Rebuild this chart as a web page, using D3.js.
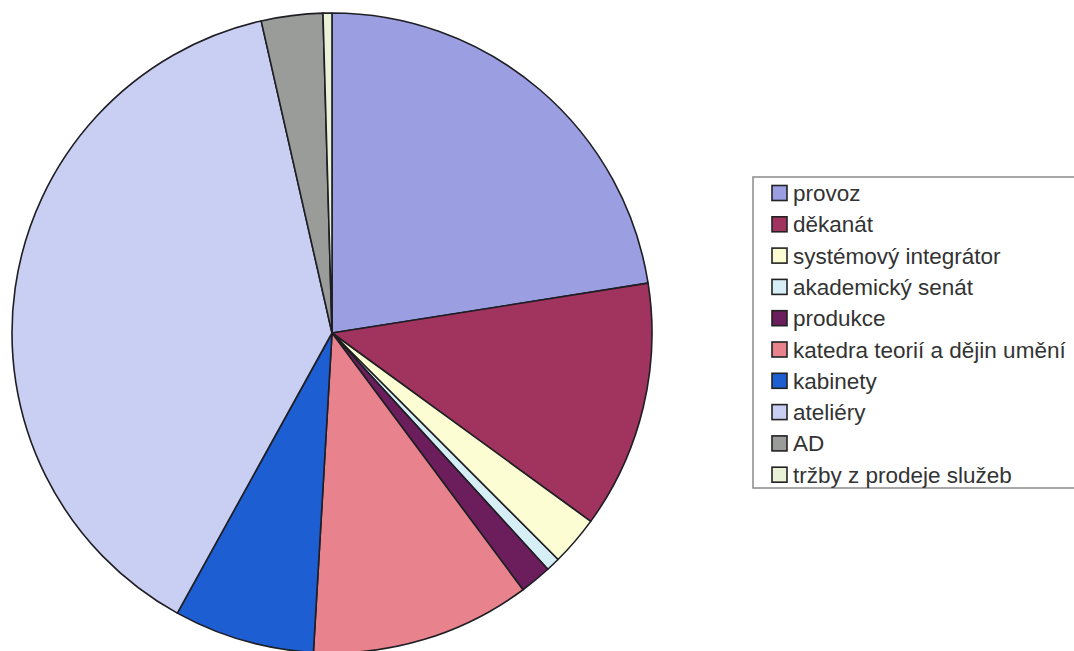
<!DOCTYPE html>
<html>
<head>
<meta charset="utf-8">
<script src="https://cdn.jsdelivr.net/npm/d3@7"></script>
<style>
  body{margin:0;background:#fff;}
  svg{display:block;}
</style>
</head>
<body>
<svg id="chart" width="1074" height="651"></svg>
<script>
var categories = ["provoz","děkanát","systémový integrátor","akademický senát","produkce",
                  "katedra teorií a dějin umění","kabinety","ateliéry","AD","tržby z prodeje služeb"];
var values = [22.5, 12.5, 2.5, 0.7, 1.6, 11.1, 7.1, 38.4, 3.1, 0.45];
var colors = ["#9b9fe2","#a1335f","#fdfdd4","#d6eef6","#6c1d5c",
              "#e8828c","#1d5ed2","#c9cff2","#9a9c9a","#e9f1d6"];

var ChartPie = (function(){
  var svg = d3.select("#chart");
  var cx = 332, cy = 333, r = 320;

  function renderPie(){
    var pie = d3.pie().sort(null).value(function(d){ return d; });
    var arc = d3.arc().innerRadius(0).outerRadius(r);
    var g = svg.append("g").attr("transform","translate("+cx+","+cy+")");
    g.selectAll("path")
      .data(pie(values))
      .enter().append("path")
      .attr("d",arc)
      .style("fill",function(d,i){ return colors[i]; })
      .style("stroke","#1e1e24")
      .style("stroke-width","1.6px")
      .style("stroke-linejoin","round");
  }

  function renderLegend(){
    var lx = 753, ly = 177, step = 31.3;
    var lg = svg.append("g");
    lg.append("rect")
      .attr("x",lx).attr("y",ly)
      .attr("width",340).attr("height",311)
      .style("fill","#fff")
      .style("stroke","#8a8a8a")
      .style("stroke-width","1.5px");
    var y = d3.scaleLinear().domain([0,1]).range([ly+16, ly+16+step]);
    var items = lg.selectAll("g.item")
      .data(categories)
      .enter().append("g")
      .attr("class","item")
      .attr("transform",function(d,i){ return "translate("+(lx+19)+","+y(i)+")"; });
    items.append("rect")
      .attr("x",0).attr("y",-7.5)
      .attr("width",15).attr("height",15)
      .style("fill",function(d,i){ return colors[i]; })
      .style("stroke","#222")
      .style("stroke-width","1.6px");
    items.append("text")
      .attr("x",21).attr("y",8)
      .style("font-family","'Liberation Sans', Arial, sans-serif")
      .style("font-size","22.5px")
      .style("fill","#333")
      .text(function(d){ return d; });
  }

  return {
    init : function(){
      renderPie();
      renderLegend();
    }
  }
})();

ChartPie.init();
</script>
</body>
</html>
